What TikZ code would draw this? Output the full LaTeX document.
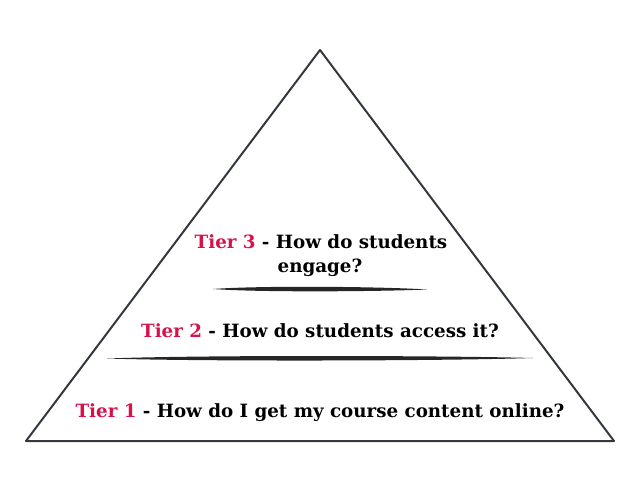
\documentclass[tikz,border=0pt]{standalone}
\usepackage{fontspec}
\setmainfont{DejaVu Serif}
\definecolor{tierred}{RGB}{214,18,74}
\definecolor{inkgray}{RGB}{52,56,62}
\tikzset{
  tiertext/.style={font=\fontsize{15.6}{19}\selectfont\bfseries, text=black, inner sep=0pt},
  brush/.style={fill=black!85},
}

\begin{document}
\begin{tikzpicture}[x=0.03cm, y=-0.03cm]
    \useasboundingbox (0, 0) rectangle (639, 504);
    \coordinate (apex) at (320, 50);
    \coordinate (left) at (26, 441);
    \coordinate (right) at (614, 441);
    \draw[inkgray, line width=1.7pt, line join=round] (left) -- (apex) -- (right) -- cycle;
    % tier labels
    \node[tiertext] (tier3a) at (321, 242) {\textcolor{tierred}{Tier 3} - How do students};
    \node[tiertext] (tier3b) at (320, 268) {engage?};
    \node[tiertext] (tier2) at (320, 331) {\textcolor{tierred}{Tier 2} - How do students access it?};
    \node[tiertext] (tier1) at (320, 413) {\textcolor{tierred}{Tier 1} - How do I get my course content online?};
    % brush strokes
    \fill[brush] (213, 289) .. controls (260, 285.5) and (380, 286.5) .. (427, 289.5) .. controls (380, 291.5) and (260, 292.5) .. cycle;
    \fill[brush] (107, 358.5) .. controls (200, 355) and (440, 355.5) .. (533, 358) .. controls (440, 361) and (200, 361.5) .. cycle;
\end{tikzpicture}
\end{document}
